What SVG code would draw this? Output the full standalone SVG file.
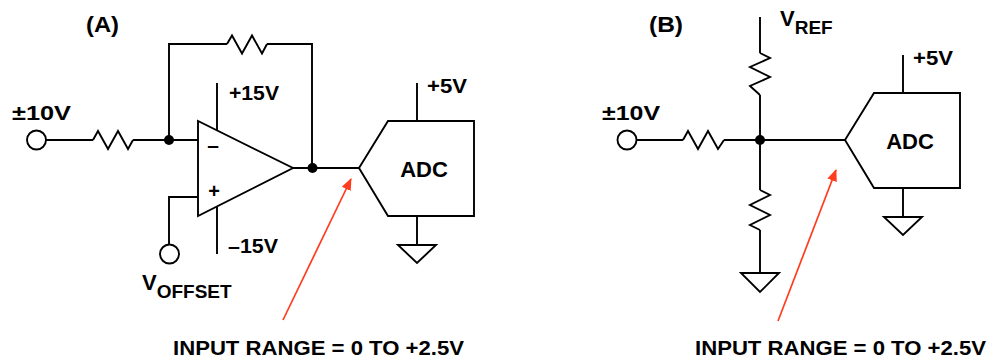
<svg xmlns="http://www.w3.org/2000/svg" width="989" height="360" viewBox="0 0 989 360">
<style>
.w{fill:none;stroke:#000;stroke-width:1.9;stroke-linejoin:miter}
.s{fill:#fff;stroke:#000;stroke-width:1.9}
.d{fill:#000}
.t{font-family:"Liberation Sans",Arial,sans-serif;font-weight:bold;fill:#000}
.r{fill:none;stroke:#ff3c1e;stroke-width:1.7}
</style>
<defs>
<marker id="ah" markerWidth="12" markerHeight="10" refX="11" refY="5" orient="auto" markerUnits="userSpaceOnUse">
<path d="M0,0 L12,5 L0,10 Z" fill="#ff3c1e"/>
</marker>
</defs>
<rect width="989" height="360" fill="#fff"/>
<g id="connectors">
<path class="w" d="M46,140 H93 M133,140 H198 M169,140 V44 H227 M267,44 H312 V168 M293,168 H359 M217,83 V130.5 M217,206.5 V254 M198,197 H169 V244.5 M417,83 V121 M417,216 V245"/>
<path class="w" d="M636.5,140 H683 M724,140 H845 M760,17 V53 M760,95 V190 M760,230 V273 M903,55 V93 M903,188 V217"/>
<line class="r" x1="283" y1="320" x2="351" y2="179" marker-end="url(#ah)"/>
<line class="r" x1="778" y1="321" x2="836" y2="170" marker-end="url(#ah)"/>
</g>
<g id="panelA">
<text class="t" x="86" y="32" font-size="22" textLength="33" lengthAdjust="spacingAndGlyphs">(A)</text>
<g id="inA"><circle class="s" cx="36.5" cy="140" r="9.5"/><text class="t" x="12" y="120" font-size="21" textLength="59" lengthAdjust="spacingAndGlyphs">±10V</text></g>
<g id="R1A"><path class="w" d="M93,140 L98,131 L108,149 L118,131 L128,149 L133,140"/></g>
<g id="RfA"><path class="w" d="M227,44 L232,35.5 L242,53.5 L252,35.5 L262,53.5 L267,44"/></g>
<g id="junctionsA"><circle class="d" cx="169" cy="140" r="5"/><circle class="d" cx="312.5" cy="168" r="5"/></g>
<g id="opamp">
<polygon class="s" points="198,121 198,216 293,168"/>
<text class="t" x="213" y="152" font-size="21" text-anchor="middle">–</text>
<text class="t" x="214" y="198" font-size="20" text-anchor="middle">+</text>
<text class="t" x="229" y="100" font-size="21" textLength="50" lengthAdjust="spacingAndGlyphs">+15V</text>
<text class="t" x="228" y="253" font-size="21" textLength="50" lengthAdjust="spacingAndGlyphs">–15V</text>
</g>
<g id="voffset">
<circle class="s" cx="169.5" cy="254" r="9.5"/>
<text class="t" x="142" y="290" font-size="22">V<tspan font-size="19" dy="8">OFFSET</tspan></text>
</g>
<g id="adcA">
<polygon class="s" points="359,168 388,121 474,121 474,216 388,216"/>
<text class="t" x="424" y="177" font-size="22" text-anchor="middle">ADC</text>
<text class="t" x="427" y="93" font-size="21" textLength="40" lengthAdjust="spacingAndGlyphs">+5V</text>
</g>
<g id="gndA"><polygon class="s" points="398,245 436,245 417,263"/></g>
<text class="t" x="173" y="355" font-size="21" textLength="291" lengthAdjust="spacingAndGlyphs">INPUT RANGE = 0 TO +2.5V</text>
</g>
<g id="panelB">
<text class="t" x="649" y="32" font-size="22" textLength="34" lengthAdjust="spacingAndGlyphs">(B)</text>
<g id="inB"><circle class="s" cx="627" cy="140" r="9.5"/><text class="t" x="602" y="120" font-size="21" textLength="58" lengthAdjust="spacingAndGlyphs">±10V</text></g>
<g id="R1B"><path class="w" d="M683,140 L688,131 L698,149 L708,131 L718,149 L724,140"/></g>
<g id="RtopB"><path class="w" d="M760,53 L770,58 L750,67 L770,77 L750,86 L760,95"/></g>
<g id="RbotB"><path class="w" d="M760,190 L770,195 L750,205 L770,215 L750,225 L760,230"/></g>
<g id="vref"><text class="t" x="780" y="26" font-size="22">V<tspan font-size="19" dy="8">REF</tspan></text></g>
<g id="junctionB"><circle class="d" cx="760" cy="140" r="5"/></g>
<g id="gndB1"><polygon class="s" points="741,273 779,273 760,292"/></g>
<g id="adcB">
<polygon class="s" points="845,140 874,93 960,93 960,188 874,188"/>
<text class="t" x="910" y="149" font-size="22" text-anchor="middle">ADC</text>
<text class="t" x="913" y="65" font-size="21" textLength="40" lengthAdjust="spacingAndGlyphs">+5V</text>
</g>
<g id="gndB2"><polygon class="s" points="884,217 922,217 903,235"/></g>
<text class="t" x="695" y="355" font-size="21" textLength="291" lengthAdjust="spacingAndGlyphs">INPUT RANGE = 0 TO +2.5V</text>
</g>
</svg>
